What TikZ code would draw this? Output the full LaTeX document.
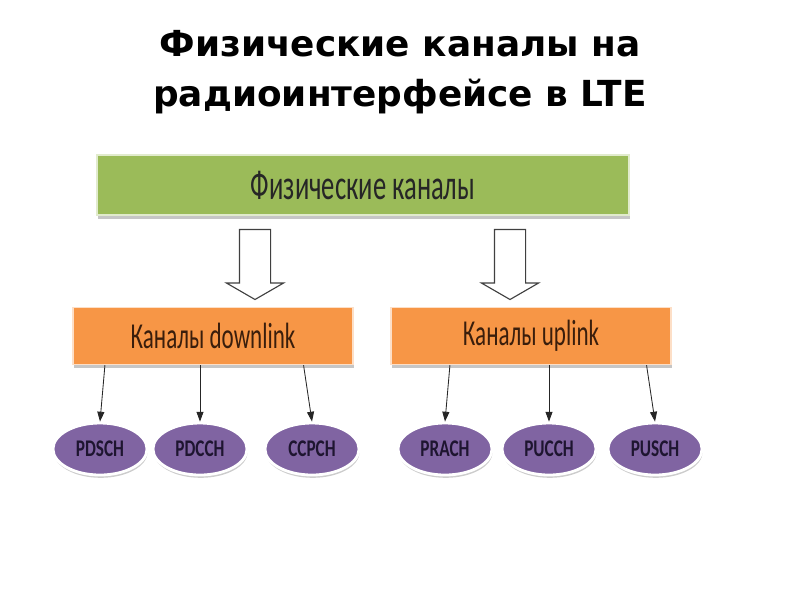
\documentclass[tikz,border=0pt]{standalone}
\usepackage{fontspec}
\setmainfont{Carlito}
\newfontfamily\titlefont{DejaVu Sans}
\newfontfamily\boxfont[FakeStretch=0.63]{Carlito}
\newfontfamily\chanfont[FakeStretch=0.72]{Carlito}
\usetikzlibrary{positioning,arrows.meta,shapes.geometric,shapes.arrows,shadows}
\definecolor{headfill}{HTML}{9BBB59}
\definecolor{groupfill}{HTML}{F79646}
\definecolor{chanfill}{HTML}{8064A2}
\definecolor{grouptext}{HTML}{3A1E0C}
\definecolor{chantext}{HTML}{1E1530}
\tikzset{
    headblock/.style={
        rectangle,
        fill=headfill,
        draw=headfill!30!white,
        line width=1.2pt,
        minimum width=13.3cm,
        minimum height=1.5cm,
        text=black!85,
        font=\boxfont\fontsize{30}{32}\selectfont,
        drop shadow={shadow xshift=0.5pt, shadow yshift=-2.5pt, opacity=0.45},
    },
    groupblock/.style={
        rectangle,
        fill=groupfill,
        draw=groupfill!30!white,
        line width=1.2pt,
        minimum width=7cm,
        minimum height=1.42cm,
        text=grouptext,
        font=\boxfont\fontsize{26}{28}\selectfont,
        drop shadow={shadow xshift=0.5pt, shadow yshift=-2.5pt, opacity=0.45},
    },
    chan/.style={
        ellipse,
        fill=chanfill,
        draw=white,
        line width=2pt,
        minimum width=2.35cm,
        minimum height=1.3cm,
        inner sep=0pt,
        text=chantext,
        font=\chanfont\bfseries\fontsize{17}{19}\selectfont,
        drop shadow={shadow xshift=0.5pt, shadow yshift=-2pt, opacity=0.4},
    },
    bigarrow/.style={
        single arrow,
        draw=black!75,
        fill=white,
        line width=0.8pt,
        rotate=-90,
        inner sep=0pt,
        minimum height=1.75cm,
        single arrow head extend=0.325cm,
        single arrow tip angle=120,
    },
    link/.style={
        -{Triangle[length=7pt,width=5pt]},
        line width=0.6pt,
        black!85,
    },
}
\begin{document}
\begin{tikzpicture}[x=0.025cm, y=-0.025cm]
    \useasboundingbox (0,0) rectangle (800,600);
    \node[align=center, font=\titlefont\bfseries\fontsize{25.5}{36}\selectfont] (title) at (400,72)
        {Физические каналы на\\радиоинтерфейсе в LTE};

    \node[headblock] (phys) at (363,185) {Физические каналы};

    \node[bigarrow] (downarr) at (255,260) {\rule{0pt}{0.75cm}};
    \node[bigarrow] (uparr) at (510,260) {\rule{0pt}{0.75cm}};

    \node[groupblock] (downlink) at (213,336) {Каналы downlink};
    \node[groupblock] (uplink) at (531,336) {Каналы uplink};

    \node[chan] (pdsch) at (100,449) {PDSCH};
    \node[chan] (pdcch) at (200,449) {PDCCH};
    \node[chan] (ccpch) at (312,449) {CCPCH};
    \node[chan] (prach) at (445,449) {PRACH};
    \node[chan] (pucch) at (549,449) {PUCCH};
    \node[chan] (pusch) at (655,449) {PUSCH};

    \draw[link] ([xshift=3.5pt]pdsch.north |- downlink.south) -- (pdsch.north);
    \draw[link] (pdcch.north |- downlink.south) -- (pdcch.north);
    \draw[link] ([xshift=-6pt]ccpch.north |- downlink.south) -- (ccpch.north);
    \draw[link] ([xshift=3.5pt]prach.north |- uplink.south) -- (prach.north);
    \draw[link] (pucch.north |- uplink.south) -- (pucch.north);
    \draw[link] ([xshift=-6pt]pusch.north |- uplink.south) -- (pusch.north);
\end{tikzpicture}
\end{document}
